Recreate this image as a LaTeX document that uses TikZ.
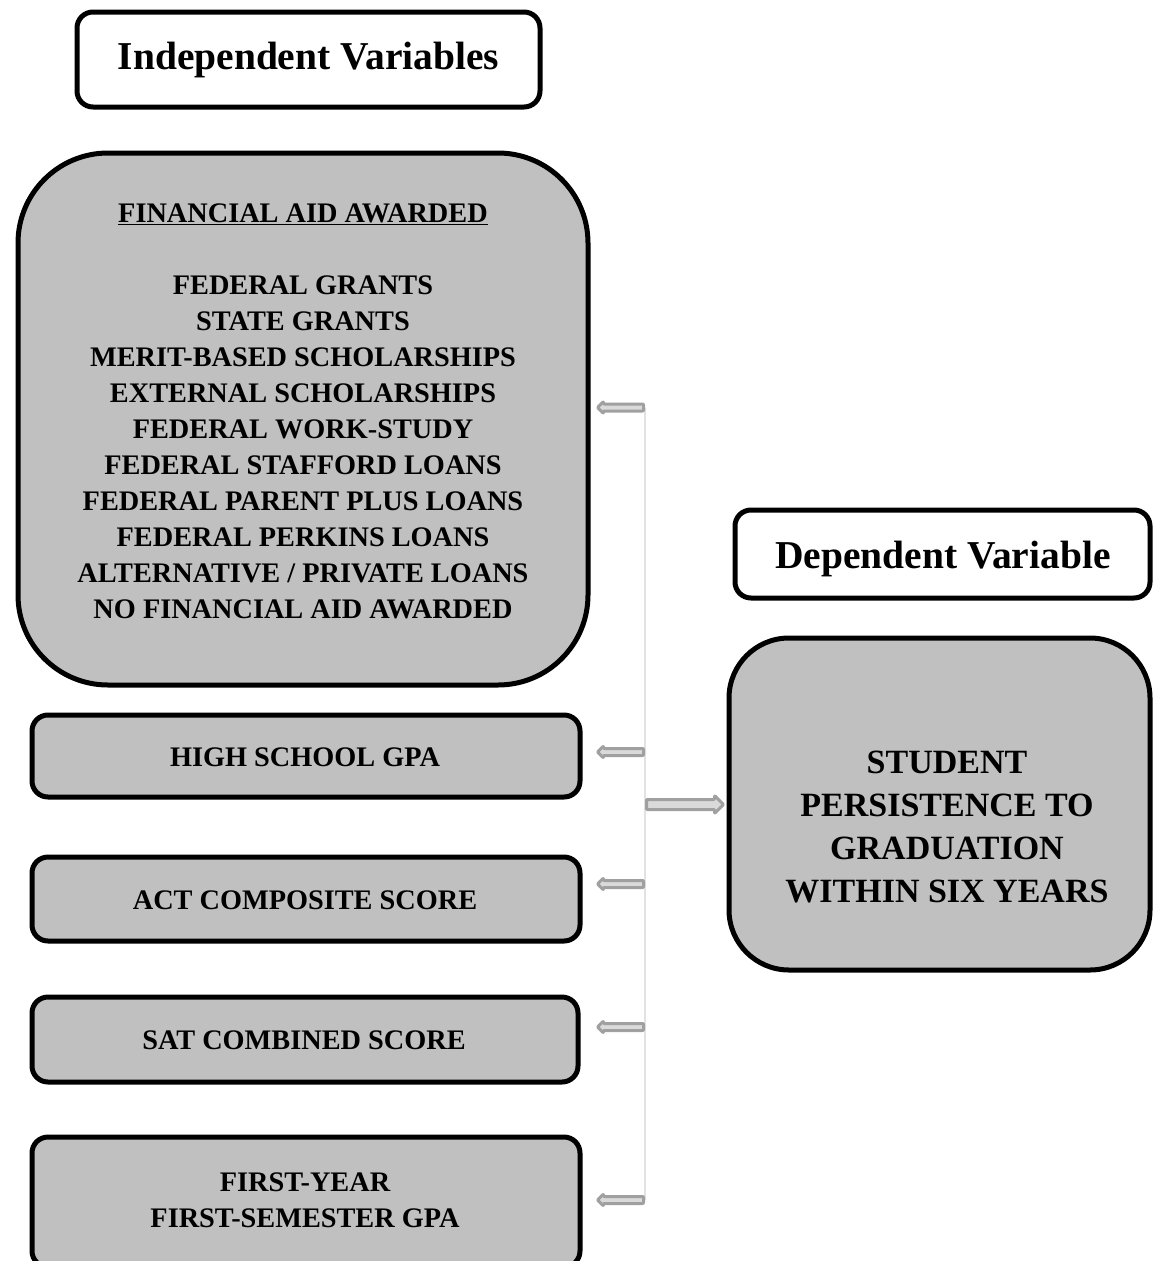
\documentclass[tikz,border=0pt]{standalone}
\usepackage{fontspec}
\setmainfont{Liberation Serif}
\usetikzlibrary{arrows.meta}
\definecolor{boxgray}{HTML}{C0C0C0}
\definecolor{arrline}{HTML}{A0A0A0}
\definecolor{arrfill}{HTML}{DADADA}
\definecolor{busline}{HTML}{E2E2E2}
\begin{document}
\begin{tikzpicture}[x=1pt,y=-1pt,
  hdrbox/.style={draw=black, line width=5pt, fill=white, rounded corners=16pt, inner sep=0pt},
  varbox/.style={draw=black, line width=5pt, fill=boxgray, rounded corners=16pt, inner sep=0pt},
  hdrtext/.style={font=\fontsize{39.5}{46}\selectfont\bfseries},
  vartext/.style={font=\fontsize{28.3}{36}\selectfont\bfseries, align=center},
  bigtext/.style={font=\fontsize{34}{43}\selectfont\bfseries, align=center},
  blockshape/.style={draw=arrline, line width=3pt, fill=arrfill, line join=round, rounded corners=0.8pt},
  bus/.style={draw=busline, line width=2pt}]
\useasboundingbox (0,0) rectangle (1153,1261);

% header boxes
\node[hdrbox, minimum width=463pt, minimum height=95pt] (ind) at (308.5,59.5) {};
\node[hdrtext] (indT) at (308.5,59.5) {Independent Variables};
\node[hdrbox, minimum width=415pt, minimum height=88pt] (dep) at (942.5,554) {};
\node[hdrtext] (depT) at (943,559) {Dependent Variable};

% financial aid box
\node[varbox, rounded corners=90pt, minimum width=570pt, minimum height=532pt] (fin) at (303,419) {};
\node[vartext] (finT) at (303,411) {\underline{FINANCIAL AID AWARDED}\\[36pt]
FEDERAL GRANTS\\
STATE GRANTS\\
MERIT-BASED SCHOLARSHIPS\\
EXTERNAL SCHOLARSHIPS\\
FEDERAL WORK-STUDY\\
FEDERAL STAFFORD LOANS\\
FEDERAL PARENT PLUS LOANS\\
FEDERAL PERKINS LOANS\\
ALTERNATIVE / PRIVATE LOANS\\
NO FINANCIAL AID AWARDED};

% other independent variables
\node[varbox, minimum width=548pt, minimum height=82pt] (hs) at (306,756) {};
\node[vartext] (hsT) at (305,757) {HIGH SCHOOL GPA};
\node[varbox, minimum width=548pt, minimum height=84pt] (act) at (306,899) {};
\node[vartext] (actT) at (305,900) {ACT COMPOSITE SCORE};
\node[varbox, minimum width=546pt, minimum height=85pt] (sat) at (305,1039.5) {};
\node[vartext] (satT) at (304,1040) {SAT COMBINED SCORE};
\node[varbox, minimum width=548pt, minimum height=130pt] (fy) at (306,1202) {};
\node[vartext] (fyT) at (305,1200) {FIRST-YEAR\\FIRST-SEMESTER GPA};

% dependent variable
\node[varbox, rounded corners=60pt, minimum width=421pt, minimum height=332pt] (stu) at (939.5,804) {};
\node[bigtext] (stuT) at (947,827) {STUDENT\\PERSISTENCE TO\\GRADUATION\\WITHIN SIX YEARS};

% bus connector
\coordinate (b1) at (645,407.5);
\coordinate (b2) at (645,752);
\coordinate (b3) at (645,884);
\coordinate (b4) at (645,1027);
\coordinate (b5) at (645,1200);
\coordinate (bm) at (645,804.5);
\draw[bus] (b1) -- (b5);

% block arrows towards the independent variables
\foreach \b in {b1,b2,b3,b4,b5}{
  \draw[blockshape] (\b) ++(-1.5,-3.5) -- ++(-40,0) -- ++(0,-2.5) -- ++(-6,6)
     -- ++(6,6) -- ++(0,-2.5) -- ++(40,0) -- cycle;
}
% block arrow towards the dependent variable
\draw[blockshape] (bm) ++(1.5,-5) -- ++(68,0) -- ++(0,-4) -- ++(9,9)
   -- ++(-9,9) -- ++(0,-4) -- ++(-68,0) -- cycle;
\end{tikzpicture}
\end{document}
